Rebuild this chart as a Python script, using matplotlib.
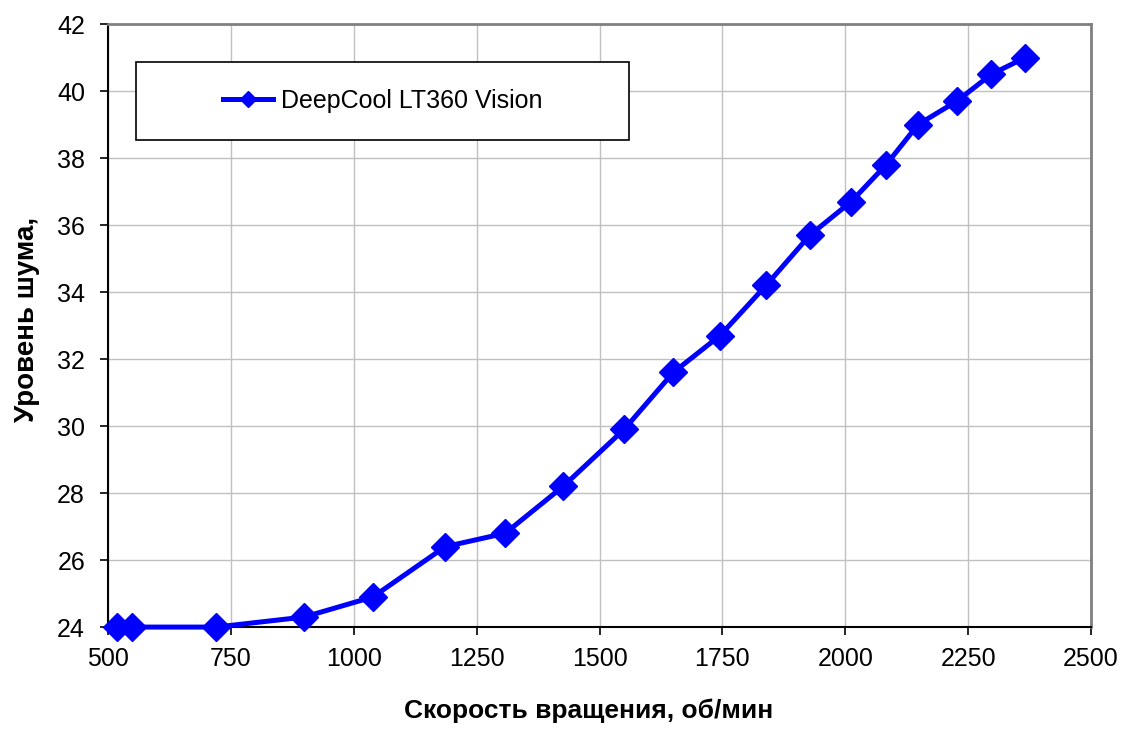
import matplotlib.pyplot as plt
import matplotlib.patches as mpatches

rpm = [518, 549, 720, 899, 1039, 1186, 1308, 1426, 1550, 1650, 1745, 1839,
       1928, 2012, 2083, 2148, 2227, 2297, 2366]
noise = [24.0, 24.0, 24.0, 24.3, 24.9, 26.4, 26.8, 28.2, 29.9, 31.6, 32.7, 34.2,
         35.7, 36.7, 37.8, 39.0, 39.7, 40.5, 41.0]
series_name = 'DeepCool LT360 Vision'
x_ticks = [500, 750, 1000, 1250, 1500, 1750, 2000, 2250, 2500]
y_ticks = [24, 26, 28, 30, 32, 34, 36, 38, 40, 42]

plt.rcParams['font.family'] = ['Liberation Sans', 'DejaVu Sans']

fig = plt.figure(figsize=(11.36, 7.3), dpi=100)
ax = fig.add_axes([0.0951, 0.141, 0.8653, 0.826])

ax.plot(rpm, noise, color='#0000ff', lw=3.6, marker='D', markersize=14,
        label=series_name, zorder=3, clip_on=False)

ax.set_xlim(500, 2500)
ax.set_ylim(24, 42)
ax.set_xticks(x_ticks)
ax.set_yticks(y_ticks)
ax.grid(True, color='#c0c0c0', lw=1)
ax.set_axisbelow(True)

for s in ['top', 'right']:
    ax.spines[s].set_color('#808080')
    ax.spines[s].set_linewidth(2)
for s in ['left', 'bottom']:
    ax.spines[s].set_color('black')
    ax.spines[s].set_linewidth(1.5)

ax.tick_params(axis='both', direction='out', length=6, width=1.2, labelsize=18)
ax.tick_params(axis='x', pad=8)
ax.tick_params(axis='y', pad=10.5)

ax.set_xlabel('Скорость вращения, об/мин', fontsize=19, fontweight='bold')
ax.xaxis.set_label_coords(0.489, -0.118)
ax.set_ylabel('Уровень шума,', fontsize=20, fontweight='bold')
ax.yaxis.set_label_coords(-0.069, 0.511)

# legend box
box = mpatches.Rectangle((0.0285, 0.808), 0.5015, 0.129, transform=ax.transAxes,
                         facecolor='white', edgecolor='black', lw=1.2, zorder=4)
ax.add_patch(box)
leg = ax.legend(loc='center', bbox_to_anchor=(0.0285, 0.808, 0.5015, 0.129),
                fontsize=18, frameon=False, handlelength=2.0, handletextpad=0.3,
                markerscale=0.6)
leg.set_zorder(5)

fig.savefig('out.png', dpi=100)
